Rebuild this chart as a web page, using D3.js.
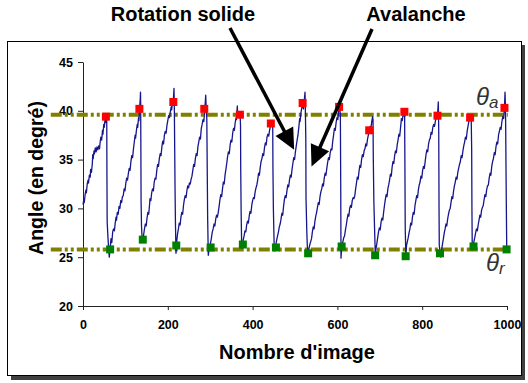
<!DOCTYPE html>
<html>
<head>
<meta charset="utf-8">
<script src="https://cdn.jsdelivr.net/npm/d3@7"></script>
<style>
  body { margin: 0; background: #fff; }
  svg { display: block; }
  text { font-family: "Liberation Sans", Arial, sans-serif; }
</style>
</head>
<body>
<svg id="chart" width="528" height="383"></svg>
<script>
// Axis ticks
const xTicks = [0, 200, 400, 600, 800, 1000];
const yTicks = [20, 25, 30, 35, 40, 45];

// Reference angles (avalanche / repose)
const thetaA = 39.6;
const thetaR = 25.8;
const thetaSpan = [-76, 1002];

// Angle of the pile surface for each image: [frame, angle]
const trace = [
  [0,30.4],[2,30.9],[3,30.6],[5,31.4],[7,31.9],[8,31.6],[10,32.5],[12,32.9],[13,32.6],[15,33.4],[17,33.2],[18,34.0],[20,33.7],[22,34.6],[23,35.5],[24,35.1],[26,35.9],[27,35.6],[29,36.2],[31,35.8],[33,36.3],[35,36.0],[37,36.4],[39,36.1],[40,36.6],[42,37.3],[44,37.0],[46,38.0],[47,37.6],[49,38.6],[50,38.3],[52,39.1],[53,38.8],[55,39.6],[56,39.3],[56.5,33.0],[57,28.6],[59,26.9],[61,25.6],[62,25.0],
  [64,25.8],[66,26.9],[68,26.5],[70,27.6],[72,27.9],[74,27.7],[76,28.5],[78,29.1],[79,28.8],[81,29.6],[83,29.4],[85,30.2],[87,30.0],[89,30.8],[91,30.6],[93,31.2],[95,31.3],[97,32.0],[99,31.8],[101,32.6],[103,33.1],[105,32.9],[107,33.6],[109,34.1],[111,33.9],[113,34.8],[115,35.4],[117,35.2],[119,36.1],[121,36.8],[123,37.5],[124,37.2],[126,38.0],[128,38.6],[129,38.3],[131,39.3],[132,39.0],[133,40.0],[134,40.6],[135,41.2],[135.6,41.9],[136,40.8],[136.5,36.0],[137,30.7],[138,28.2],[139.4,26.9],[140.5,26.6],
  [141,26.8],[143,27.3],[145,27.9],[147,28.4],[149,28.2],[151,29.0],[153,29.6],[155,29.4],[157,30.4],[158,31.0],[160,30.8],[162,31.6],[164,32.0],[166,31.8],[168,32.7],[170,33.1],[172,33.0],[174,33.9],[176,34.5],[178,34.3],[180,35.1],[182,35.6],[184,35.4],[186,36.3],[188,36.9],[190,36.6],[192,37.5],[194,37.9],[196,37.7],[198,38.5],[200,39.0],[202,39.5],[204,39.3],[206,39.9],[208,40.4],[209,40.1],[211,40.8],[213,41.0],[214.6,42.3],[215.5,40.0],[216.3,36.0],[217,32.4],[218,28.6],[219.3,25.4],[220,25.9],
  [221,26.6],[223,27.4],[225,27.9],[227,28.5],[229,28.3],[231,29.1],[233,29.6],[235,29.4],[237,30.3],[239,30.9],[241,31.3],[243,31.1],[245,31.8],[247,32.3],[249,32.1],[251,32.6],[253,32.5],[255,33.0],[257,33.3],[259,33.9],[261,34.5],[263,34.3],[265,35.1],[267,35.6],[269,35.4],[271,36.3],[273,36.8],[275,37.3],[277,37.1],[279,38.2],[281,38.6],[283,39.1],[285,38.9],[287,40.0],[288,40.6],[289.4,41.6],[290.5,40.3],[292,39.2],[293,34.0],[294,29.0],[295.5,25.2],[297,25.7],[299,26.1],
  [301,26.5],[303,27.0],[305,27.6],[307,27.9],[309,28.4],[311,28.2],[313,28.9],[315,29.3],[317,29.1],[319,29.6],[321,30.2],[323,30.9],[325,31.4],[327,31.2],[329,32.0],[331,32.7],[333,32.5],[335,33.4],[337,34.0],[339,34.6],[341,35.3],[343,35.8],[345,35.6],[347,36.5],[349,37.0],[351,36.8],[353,37.7],[355,38.2],[357,38.0],[359,38.8],[361,39.3],[362,39.1],[363.9,40.5],[365,39.6],[367,39.9],[369,39.4],[370.5,39.6],[371.5,38.5],[372,34.0],[373,29.5],[374.3,25.9],[376,26.2],
  [378,26.8],[380,27.2],[382,27.7],[384,27.6],[386,28.3],[388,28.7],[390,28.5],[392,29.2],[394,29.7],[396,29.5],[398,30.3],[400,30.8],[402,31.1],[404,31.0],[406,31.7],[408,32.1],[410,32.4],[412,32.9],[414,33.6],[416,33.4],[418,34.2],[420,34.8],[422,35.1],[424,35.6],[426,35.4],[428,36.2],[430,36.7],[432,36.5],[434,37.3],[436,37.6],[438,37.4],[440,38.0],[442,38.4],[443.5,38.8],[445,38.6],[446.5,39.0],[447.5,38.2],[448,34.0],[449,30.0],[451,25.9],[453,25.8],[455,26.3],
  [457,26.8],[459,27.2],[461,27.6],[463,28.1],[465,28.4],[467,28.9],[469,29.5],[471,29.3],[473,30.2],[475,30.9],[477,31.3],[479,31.1],[481,31.8],[483,32.4],[485,32.2],[487,32.9],[489,33.4],[491,33.2],[493,34.0],[495,34.6],[497,35.2],[499,35.0],[501,35.8],[503,36.4],[505,37.0],[507,37.5],[509,38.3],[511,39.2],[512,38.9],[514,39.8],[516,40.3],[518,40.6],[520,40.2],[522,41.1],[523.6,41.9],[524.5,40.0],[525.5,37.0],[526,31.0],[528,27.4],[529,26.2],[530,25.7],[531.5,25.4],
  [533,25.9],[535,26.3],[537,26.6],[539,26.9],[541,27.6],[543,28.1],[545,27.9],[547,28.7],[549,29.2],[551,29.6],[553,30.1],[555,30.6],[557,30.4],[559,31.2],[561,31.7],[563,32.0],[565,32.5],[567,32.3],[569,33.1],[571,33.6],[573,33.4],[575,34.1],[577,34.7],[579,35.2],[581,35.0],[583,35.7],[585,36.1],[587,36.0],[589,36.9],[591,37.5],[593,38.2],[595,38.0],[597,38.8],[599,39.3],[601,39.1],[603,40.0],[604.5,40.5],[606,40.1],[607,39.6],[607.8,33.0],[608.5,24.9],[609.5,25.6],[611,26.3],
  [613,26.6],[615,27.0],[617,27.2],[619,27.8],[621,28.3],[623,28.9],[625,29.4],[627,29.2],[629,30.0],[631,30.3],[633,30.1],[635,30.8],[637,31.1],[639,31.0],[641,31.3],[643,32.0],[645,32.6],[647,33.2],[649,33.0],[651,33.8],[653,34.4],[655,34.2],[657,35.0],[659,35.5],[661,35.3],[663,35.9],[665,36.1],[667,36.6],[669,36.4],[671,37.1],[673,37.5],[675,37.9],[677,38.4],[679,38.2],[681,38.9],[683,39.4],[684,39.1],[684.7,35.0],[686,30.7],[688,27.4],[689.4,25.2],[691,25.9],
  [693,26.4],[695,27.0],[697,27.6],[699,28.0],[701,27.8],[703,28.6],[705,29.0],[707,28.8],[709,29.6],[711,30.3],[713,30.9],[715,31.4],[717,31.2],[719,32.0],[721,32.4],[723,32.9],[725,33.5],[727,33.3],[729,34.2],[731,34.8],[733,34.6],[735,35.4],[737,35.9],[739,35.7],[741,36.5],[743,37.0],[745,37.6],[747,37.4],[749,38.3],[751,39.2],[753,39.0],[755,39.6],[757,40.1],[758.5,39.8],[759.4,33.0],[760,27.9],[761.5,25.0],[763,26.2],
  [765,26.6],[767,27.0],[769,27.5],[771,27.9],[773,28.5],[775,28.3],[777,29.1],[779,29.6],[781,29.4],[783,30.3],[785,30.8],[787,31.3],[789,31.1],[791,31.9],[793,32.4],[795,32.7],[797,33.3],[799,33.1],[801,33.9],[803,34.3],[805,34.1],[807,34.8],[809,35.5],[811,36.0],[813,35.8],[815,36.6],[817,37.0],[819,37.2],[821,37.8],[823,37.6],[825,38.3],[827,38.6],[829,38.4],[831,38.9],[833,39.4],[835,39.2],[836.5,39.8],[838,40.9],[839,38.0],[839.7,30.0],[840.3,26.2],[842,25.6],[844,25.0],[846,25.8],
  [848,26.4],[850,26.9],[852,27.5],[854,27.9],[856,28.4],[858,28.2],[860,28.9],[862,29.4],[864,29.8],[866,30.0],[868,30.6],[870,31.2],[872,31.0],[874,31.8],[876,32.3],[878,32.7],[880,33.2],[882,33.0],[884,33.7],[886,34.1],[888,34.5],[890,34.8],[892,35.4],[894,35.2],[896,35.9],[898,36.4],[900,36.8],[902,37.3],[904,37.1],[906,37.9],[908,38.4],[910,38.9],[912,39.4],[914,39.2],[915.5,39.6],[916.7,36.0],[917.3,30.0],[918,26.2],[920,26.0],[922,26.6],
  [924,27.0],[926,27.5],[928,27.9],[930,27.7],[932,28.3],[934,28.8],[936,29.3],[938,29.1],[940,29.8],[942,30.1],[944,30.3],[946,30.9],[948,31.4],[950,31.2],[952,31.9],[954,32.3],[956,32.4],[958,33.1],[960,33.6],[962,33.4],[964,34.3],[966,34.8],[968,35.1],[970,35.7],[972,35.5],[974,36.3],[976,36.8],[978,36.6],[980,37.5],[982,37.9],[984,38.3],[986,38.1],[988,38.9],[990,39.4],[992,39.2],[994,40.2],[995.3,41.9],[996.3,40.6],[997,38.0],[997.6,34.4],[998.5,30.0],[999.3,26.2],[1000,25.8]
];

// Avalanche onset (peak) and repose (rest) markers
const peakFrame = [54, 133, 213, 286, 370, 443, 518, 604, 675, 758, 836, 913, 994];
const peakAngle = [39.4, 40.2, 40.9, 40.2, 39.6, 38.7, 40.8, 40.4, 38.0, 39.9, 39.5, 39.3, 40.3];
const restFrame = [64, 141, 220, 301, 377, 455, 531, 610, 689, 761, 842, 921, 999];
const restAngle = [25.8, 26.8, 26.2, 26.0, 26.3, 26.0, 25.4, 26.1, 25.2, 25.1, 25.4, 26.1, 25.8];

// Annotations: label text and the [frame, angle] each arrow points to
const notes = [
  { label: "Rotation solide", tip: [498, 36.0] },
  { label: "Avalanche", tip: [539, 34.3] }
];

const svg = d3.select("#chart");
const x = d3.scaleLinear().domain([0, 1000]).range([83, 507]);
const y = d3.scaleLinear().domain([20, 45]).range([306, 62]);

// Chart frame with drop shadow
svg.append("rect").attr("x", 11).attr("y", 45).attr("width", 514).attr("height", 335).attr("fill", "#404040");
svg.append("rect").attr("x", 7.5).attr("y", 41.5).attr("width", 514).attr("height", 334)
  .attr("fill", "#fff").attr("stroke", "#000").attr("stroke-width", 1);

// Axes
const yAxis = svg.append("g").attr("transform", `translate(${x(0)},0)`)
  .call(d3.axisLeft(y).tickValues(yTicks).tickSize(5).tickSizeOuter(0).tickPadding(5));
const xAxis = svg.append("g").attr("transform", `translate(0,${y(20)})`)
  .call(d3.axisBottom(x).tickValues(xTicks).tickFormat(d3.format("d")).tickSize(4).tickSizeOuter(0).tickPadding(10));
[xAxis, yAxis].forEach(g => {
  g.selectAll("path, line").attr("stroke", "#222").attr("stroke-width", 1);
  g.selectAll("text").attr("font-family", "'Liberation Sans', Arial, sans-serif")
    .attr("font-size", 12.5).attr("font-weight", "bold").attr("fill", "#000");
});

// Axis titles
svg.append("text").attr("x", x(500) + 2).attr("y", 359).attr("text-anchor", "middle")
  .attr("font-size", 20).attr("font-weight", "bold").text("Nombre d'image");
svg.append("text").attr("transform", "translate(43,178) rotate(-90)").attr("text-anchor", "middle")
  .attr("font-size", 19.5).attr("font-weight", "bold").text("Angle (en degré)");

// Reference angle lines
const dash = "11,3,3,3,3,3";
[thetaA, thetaR].forEach(t => {
  svg.append("line").attr("x1", x(thetaSpan[0])).attr("x2", x(thetaSpan[1]))
    .attr("y1", y(t)).attr("y2", y(t))
    .attr("stroke", "#808000").attr("stroke-width", 4).attr("stroke-dasharray", dash);
});

// Angle trace
svg.append("path").datum(trace)
  .attr("d", d3.line().x(d => x(d[0])).y(d => y(d[1])))
  .attr("fill", "none").attr("stroke", "#16168c").attr("stroke-width", 1.3)
  .attr("stroke-linejoin", "round");

// Markers
const ms = 8;
svg.append("g").selectAll("rect").data(peakFrame).join("rect")
  .attr("x", (d, i) => x(d) - ms / 2).attr("y", (d, i) => y(peakAngle[i]) - ms / 2)
  .attr("width", ms).attr("height", ms).attr("fill", "#ff0000");
svg.append("g").selectAll("rect").data(restFrame).join("rect")
  .attr("x", (d, i) => x(d) - ms / 2).attr("y", (d, i) => y(restAngle[i]) - ms / 2)
  .attr("width", ms).attr("height", ms).attr("fill", "#008000");

// Theta labels
const thetaLabel = (px, py, sub) => {
  const t = svg.append("text").attr("x", px).attr("y", py)
    .attr("font-family", "'Liberation Serif', 'DejaVu Serif', serif").attr("font-style", "italic")
    .attr("fill", "#333");
  t.append("tspan").attr("font-size", 24).text("θ");
  t.append("tspan").attr("font-size", 17).attr("dy", 3).text(sub);
};
thetaLabel(476, y(thetaA) - 10, "a");
thetaLabel(486, y(thetaR) + 22, "r");

// Annotation labels with arrows
const tails = [[230, 28], [372, 29]];
const labelPos = [[183, 21], [416, 21]];
notes.forEach((n, i) => {
  svg.append("text").attr("x", labelPos[i][0]).attr("y", labelPos[i][1]).attr("text-anchor", "middle")
    .attr("font-size", 20).attr("font-weight", "bold").text(n.label);
  const [tx, ty] = [x(n.tip[0]), y(n.tip[1])];
  const [sx, sy] = tails[i];
  const len = Math.hypot(tx - sx, ty - sy);
  const ux = (tx - sx) / len, uy = (ty - sy) / len;
  const hl = 21, hw = 10;
  const bx = tx - ux * hl, by = ty - uy * hl;
  svg.append("line").attr("x1", sx).attr("y1", sy).attr("x2", bx + ux * 2).attr("y2", by + uy * 2)
    .attr("stroke", "#000").attr("stroke-width", 3.5);
  svg.append("path").attr("d", `M${tx},${ty}L${bx - uy * hw},${by + ux * hw}L${bx + uy * hw},${by - ux * hw}Z`)
    .attr("fill", "#000");
});
</script>
</body>
</html>
